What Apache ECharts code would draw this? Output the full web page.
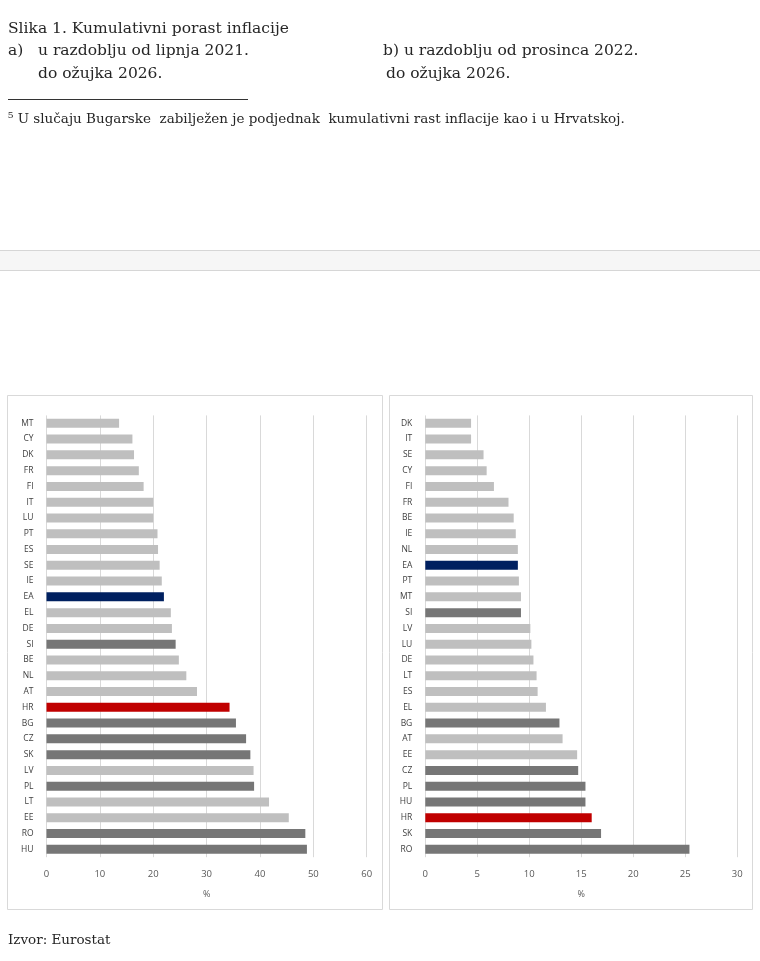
<!DOCTYPE html>
<html><head><meta charset="utf-8">
<script src="https://cdn.jsdelivr.net/npm/echarts@6/dist/echarts.min.js"></script>
<style>html,body{margin:0;padding:0;background:#fff}#c{width:760px;height:961px}</style>
</head><body><div id="c"></div>
<script>
// Panel a) cumulative inflation, June 2021 - March 2026 (%)
var catsA = ['MT','CY','DK','FR','FI','IT','LU','PT','ES','SE','IE','EA','EL','DE','SI','BE','NL','AT','HR','BG','CZ','SK','LV','PL','LT','EE','RO','HU'];
var valsA = [13.6,16.1,16.4,17.3,18.2,20.0,20.0,20.8,20.9,21.2,21.6,22.0,23.3,23.5,24.2,24.8,26.2,28.2,34.3,35.5,37.4,38.2,38.8,38.9,41.7,45.4,48.5,48.8];
// Panel b) cumulative inflation, December 2022 - March 2026 (%)
var catsB = ['DK','IT','SE','CY','FI','FR','BE','IE','NL','EA','PT','MT','SI','LV','LU','DE','LT','ES','EL','BG','AT','EE','CZ','PL','HU','HR','SK','RO'];
var valsB = [4.4,4.4,5.6,5.9,6.6,8.0,8.5,8.7,8.9,8.9,9.0,9.2,9.2,10.1,10.2,10.4,10.7,10.8,11.6,12.9,13.2,14.6,14.7,15.4,15.4,16.0,16.9,25.4];
var ticksA = [0,10,20,30,40,50,60];
var ticksB = [0,5,10,15,20,25,30];
var darkGroup = ['SI','BG','CZ','SK','PL','RO','HU'];
var euroArea = 'EA';
var croatia = 'HR';

var C_LIGHT = '#bfbfbf', C_DARK = '#767676', C_EA = '#002060', C_HR = '#c00000';
function colorFor(c){
  if (c === euroArea) return C_EA;
  if (c === croatia) return C_HR;
  if (darkGroup.indexOf(c) >= 0) return C_DARK;
  return C_LIGHT;
}
function barData(cats, vals){
  return vals.map(function(v,i){ return {value:v, itemStyle:{color:colorFor(cats[i])}}; });
}
var lblFont = '"Open Sans", "Liberation Sans", sans-serif';
function xAx(idx, ticks){
  return {
    type:'value', gridIndex:idx, min:ticks[0], max:ticks[ticks.length-1],
    interval:ticks[1]-ticks[0],
    name:'%', nameLocation:'middle', nameGap:33,
    nameTextStyle:{color:'#595959', fontSize:9, fontFamily:lblFont},
    axisLine:{show:false}, axisTick:{show:false},
    axisLabel:{color:'#595959', fontSize:9.5, fontFamily:lblFont, margin:12},
    splitLine:{show:true, lineStyle:{color:'#d9d9d9', width:1}}
  };
}
function yAx(idx, cats){
  return {
    type:'category', gridIndex:idx, data:cats, inverse:true,
    axisLine:{show:false}, axisTick:{show:false},
    axisLabel:{color:'#404040', fontSize:8.5, fontFamily:lblFont, margin:13}
  };
}
var serif = '"DejaVu Serif", "Liberation Serif", serif';
var hdr = {fontFamily:serif, fontSize:15.5, fill:'#262626', verticalAlign:'middle'};
var small = {fontFamily:serif, fontSize:13.5, fill:'#262626', verticalAlign:'middle'};
function txt(x,y,s,st){ return {type:'text', x:x, y:y, style:Object.assign({text:s}, st)}; }

var chart = echarts.init(document.getElementById('c'), null, {renderer:'canvas'});
chart.setOption({
  animation:false,
  backgroundColor:'#fff',
  graphic:[
    txt(8,29,'Slika 1. Kumulativni porast inflacije',hdr),
    txt(8,51,'a)',hdr),
    txt(38,51,'u razdoblju od lipnja 2021.',hdr),
    txt(38,74,'do ožujka 2026.',hdr),
    txt(383,51,'b) u razdoblju od prosinca 2022.',hdr),
    txt(386,74,'do ožujka 2026.',hdr),
    {type:'line', shape:{x1:8,y1:99.5,x2:248,y2:99.5}, style:{stroke:'#333', lineWidth:1}},
    txt(8,119,'⁵ U slučaju Bugarske  zabilježen je podjednak  kumulativni rast inflacije kao i u Hrvatskoj.',small),
    {type:'rect', shape:{x:0,y:250,width:760,height:20}, style:{fill:'#f6f6f6', stroke:null}},
    {type:'line', shape:{x1:0,y1:250.5,x2:760,y2:250.5}, style:{stroke:'#d6d6d6', lineWidth:1}},
    {type:'line', shape:{x1:0,y1:270.5,x2:760,y2:270.5}, style:{stroke:'#d6d6d6', lineWidth:1}},
    {type:'rect', shape:{x:7.5,y:395.5,width:375,height:514}, style:{fill:null, stroke:'#d9d9d9', lineWidth:1}},
    {type:'rect', shape:{x:389.5,y:395.5,width:363,height:514}, style:{fill:null, stroke:'#d9d9d9', lineWidth:1}},
    txt(8,940,'Izvor: Eurostat',small)
  ],
  grid:[
    {left:46.5, width:320.2, top:415.4, height:441.8},
    {left:425.3, width:312, top:415.4, height:441.8}
  ],
  xAxis:[xAx(0,ticksA), xAx(1,ticksB)],
  yAxis:[yAx(0,catsA), yAx(1,catsB)],
  series:[
    {type:'bar', xAxisIndex:0, yAxisIndex:0, data:barData(catsA,valsA), barWidth:9},
    {type:'bar', xAxisIndex:1, yAxisIndex:1, data:barData(catsB,valsB), barWidth:9}
  ]
});
</script></body></html>
